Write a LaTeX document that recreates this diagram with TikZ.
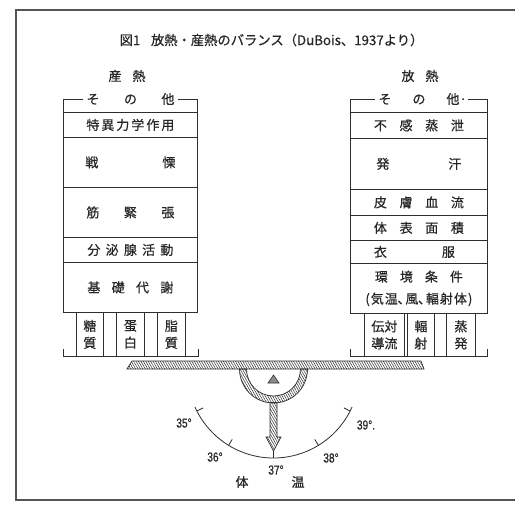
\documentclass[tikz,border=0pt]{standalone}
\usepackage{fontspec}
\setmainfont{Noto Sans CJK JP}[FakeBold=0.5]
\newfontfamily\latinf{Liberation Sans}[FakeBold=0.5]
\usetikzlibrary{patterns.meta}
\definecolor{ink}{HTML}{2E2E2E}
\definecolor{txt}{HTML}{262626}
\definecolor{framec}{HTML}{555555}
\newcommand\rf{\fontsize{13}{17}\selectfont}
\newcommand\dg[1]{\scalebox{0.78}[1]{\latinf\fontsize{13}{13}\selectfont #1}}
\begin{document}
\begin{tikzpicture}[x=1pt,y=-1pt,
  ln/.style={draw=ink, line width=0.8pt},
  lbl/.style={inner sep=0pt, text=txt, font=\rf},
  rowbox/.style={draw=ink, line width=0.8pt, inner sep=0pt, anchor=north west, text=txt, font=\rf, align=center},
  subbox/.style={draw=ink, line width=0.8pt, inner sep=0pt, anchor=north west, text=txt, font=\rf, align=center},
  hatch/.style={pattern={Lines[angle=-60,distance=2.1pt,line width=0.5pt]}, pattern color=ink}]
\useasboundingbox (0,0) rectangle (515,512);
\fill[white] (0,0) rectangle (515,512);
% frame
\draw[framec, line width=1.3pt] (520,10) -- (16,10) -- (16,500) -- (520,500);
% title
\node[lbl, font=\fontsize{13.3}{13}\selectfont] (title) at (271.5,40) {図1\hspace{0.8em}放熱・産熱のバランス（DuBois、1937より）};
% headings
\node[lbl] (lhead) at (127,76) {\makebox[37pt][s]{産\hfil 熱}};
\node[lbl] (rhead) at (420,76) {\makebox[37pt][s]{放\hfil 熱}};
% left column
\node[rowbox, minimum width=134pt, minimum height=25pt] (l1) at (63,112) {\makebox[88pt][s]{特\hfil 異\hfil 力\hfil 学\hfil 作\hfil 用}};
\node[rowbox, minimum width=134pt, minimum height=50pt] (l2) at (63,137) {\raisebox{-4pt}{\makebox[90pt][s]{戦\hfil 慄}}};
\node[rowbox, minimum width=134pt, minimum height=50pt] (l3) at (63,187) {\makebox[88pt][s]{筋\hfil 緊\hfil 張}};
\node[rowbox, minimum width=134pt, minimum height=25pt] (l4) at (63,237) {\makebox[86pt][s]{分\hfil 泌\hfil 腺\hfil 活\hfil 動}};
\node[rowbox, minimum width=134pt, minimum height=50pt] (l5) at (63,262) {\makebox[86pt][s]{基\hfil 礎\hfil 代\hfil 謝}};
\node[lbl, inner xsep=3pt] (lother) at (130.5,99) {\makebox[88pt][s]{そ\hfil の\hfil 他}};
\draw[ln] (l1.north west) |- (lother.west);
\draw[ln] (l1.north east) |- (lother.east);
\node[subbox, minimum width=27pt, minimum height=44pt] (ls1) at (76,312) {糖\\質};
\node[subbox, minimum width=28pt, minimum height=44pt] (ls2) at (116,312) {蛋\\白};
\node[subbox, minimum width=28pt, minimum height=44pt] (ls3) at (157,312) {脂\\質};
\coordinate (lb1) at (63,349);
\coordinate (lb2) at (198,349);
\draw[ln] (lb1) -- (ls1.south west -| lb1) -- (ls3.south east -| lb2) -- (lb2);
% right column
\node[rowbox, minimum width=137pt, minimum height=26pt] (r1) at (350,112) {\makebox[90pt][s]{不\hfil 感\hfil 蒸\hfil 泄}};
\node[rowbox, minimum width=137pt, minimum height=51pt] (r2) at (350,138) {\raisebox{-3pt}{\makebox[85pt][s]{発\hfil 汗}}};
\node[rowbox, minimum width=137pt, minimum height=26pt] (r3) at (350,189) {\makebox[90pt][s]{皮\hfil 膚\hfil 血\hfil 流}};
\node[rowbox, minimum width=137pt, minimum height=25pt] (r4) at (350,215) {\makebox[90pt][s]{体\hfil 表\hfil 面\hfil 積}};
\node[rowbox, minimum width=137pt, minimum height=23pt] (r5) at (350,240) {\hspace*{-9pt}\makebox[81pt][s]{衣\hfil 服}};
\node[rowbox, minimum width=137pt, minimum height=50pt] (r6) at (350,263) {\makebox[88pt][s]{環\hfil 境\hfil 条\hfil 件}\\[5pt]\makebox[107pt][s]{(\hfil 気\hfil 温､\hfil 風､\hfil 輻\hfil 射\hfil 体\hfil )}};
\node[lbl, inner xsep=3pt] (rother) at (419,99) {\makebox[81pt][s]{そ\hfil の\hfil 他}\rlap{·}};
\draw[ln] (r1.north west) |- (rother.west);
\draw[ln] (r1.north east) |- ([xshift=5pt]rother.east);
\node[subbox, minimum width=40pt, minimum height=43pt] (rs1) at (364,313) {伝対\\導流};
\node[subbox, minimum width=27pt, minimum height=43pt] (rs2) at (407,313) {輻\\射};
\node[subbox, minimum width=29pt, minimum height=43pt] (rs3) at (446,313) {蒸\\発};
\coordinate (rb1) at (350,349);
\coordinate (rb2) at (487,349);
\draw[ln] (rb1) -- (rs1.south west -| rb1) -- (rs3.south east -| rb2) -- (rb2);
% balance beam
\draw[ln, hatch, line width=0.7pt] (127,369) -- (132,361) -- (421,361) -- (424,369) -- cycle;
% ring holder
\coordinate (hc) at (273.5,369);
\draw[ln, hatch, line width=0.7pt] (239.5,369) arc (180:0:34) -- (300.5,369) arc (0:180:27) -- cycle;
% fulcrum
\draw[ln, fill=black!45, line width=0.6pt] (273.5,375) -- (279,383) -- (268,383) -- cycle;
% stem with arrow head
\draw[ln, hatch, line width=0.7pt] (270,402.5) -- (277,402.5) -- (277,437) -- (281,437) -- (273.5,451) -- (266,437) -- (270,437) -- cycle;
% scale
\coordinate (sc) at (273.5,372);
\draw[ln] ([shift={(24:86)}]sc) arc (24:156:86);
\foreach \a in {27,58.5,90,121.5,153}{
  \draw[ln] ([shift={(\a:86)}]sc) -- ([shift={(\a:79)}]sc);
}
\node[lbl] (d35) at (184,423) {\dg{35°}};
\node[lbl] (d36) at (215,457) {\dg{36°}};
\node[lbl] (d37) at (276,470) {\dg{37°}};
\node[lbl] (d38) at (331,458) {\dg{38°}};
\node[lbl] (d39) at (366,425) {\dg{39°.}};
\node[lbl] (tai) at (242,482) {体};
\node[lbl] (on) at (298,482) {温};
\end{tikzpicture}
\end{document}
